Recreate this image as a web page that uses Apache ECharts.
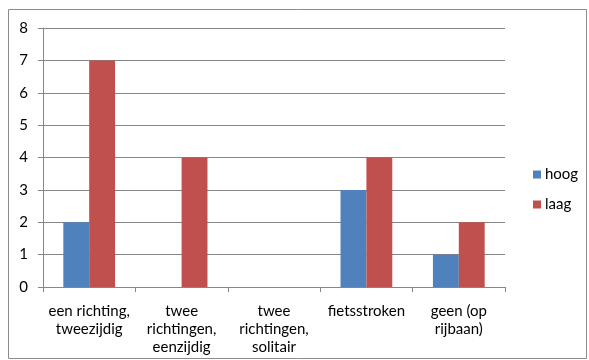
<!DOCTYPE html>
<html>
<head>
<meta charset="utf-8">
<script src="https://cdn.jsdelivr.net/npm/echarts@6/dist/echarts.min.js"></script>
<style>
  html, body { margin: 0; padding: 0; background: #fff; }
  #chart { width: 589px; height: 360px; }
</style>
</head>
<body>
<div id="chart"></div>
<script>
// Fietsvoorzieningen: aantallen per type, hoog vs laag
const categories = [
  'een richting,\ntweezijdig',
  'twee\nrichtingen,\neenzijdig',
  'twee\nrichtingen,\nsolitair',
  'fietsstroken',
  'geen (op\nrijbaan)'
];
const hoog = [2, 0, 0, 3, 1];
const laag = [7, 4, 0, 4, 2];
const seriesNames = ['hoog', 'laag'];

const FONT = 'Lato, "Open Sans", sans-serif';
const TEXT = '#000000';
const LINE = '#868686';

const chart = echarts.init(document.getElementById('chart'), null, { renderer: 'canvas' });
chart.setOption({
  animation: false,
  backgroundColor: '#ffffff',
  textStyle: { fontFamily: FONT },
  graphic: [{
    type: 'rect',
    shape: { x: 8.5, y: 9.5, width: 578, height: 349 },
    style: { fill: 'none', stroke: '#8c8c8c', lineWidth: 1 },
    silent: true
  }],
  grid: { left: 43, top: 28, right: 84, bottom: 73 },
  legend: {
    orient: 'vertical',
    left: 528,
    top: 162,
    itemWidth: 8,
    itemHeight: 8,
    itemGap: 15,
    icon: 'rect',
    textStyle: { fontFamily: FONT, fontSize: 15, color: TEXT, padding: [0, 0, 0, -1] },
    data: seriesNames
  },
  xAxis: {
    type: 'category',
    data: categories,
    axisLine: { lineStyle: { color: LINE, width: 1 } },
    axisTick: { show: true, length: 5, lineStyle: { color: LINE } },
    axisLabel: { fontFamily: FONT, fontSize: 15, color: TEXT, lineHeight: 18, margin: 15, interval: 0 },
    splitLine: { show: false }
  },
  yAxis: {
    type: 'value',
    min: 0,
    max: 8,
    interval: 1,
    axisLine: { show: true, lineStyle: { color: LINE, width: 1 } },
    axisTick: { show: true, length: 5, lineStyle: { color: LINE } },
    axisLabel: { fontFamily: FONT, fontSize: 15, color: TEXT, margin: 15 },
    splitLine: { show: true, lineStyle: { color: LINE, width: 1 } }
  },
  series: [
    {
      name: seriesNames[0], type: 'bar', data: hoog,
      itemStyle: { color: '#4f81bd' },
      barGap: '0%', barCategoryGap: '44%'
    },
    {
      name: seriesNames[1], type: 'bar', data: laag,
      itemStyle: { color: '#c0504d' },
      barGap: '0%', barCategoryGap: '44%'
    }
  ]
});
</script>
</body>
</html>
